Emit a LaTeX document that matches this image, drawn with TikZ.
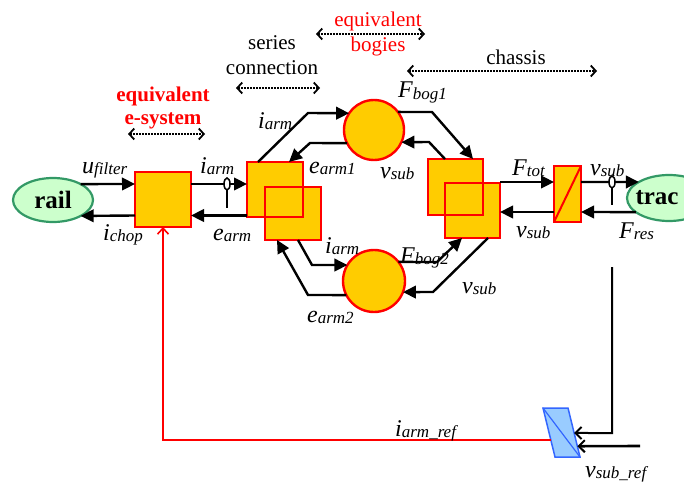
\documentclass[tikz,border=0pt]{standalone}
\usepackage{fontspec}
\setmainfont{Liberation Serif}
\usetikzlibrary{arrows.meta,calc,shapes.geometric}

\definecolor{blockfill}{HTML}{FFCC00}
\definecolor{termfill}{HTML}{CCFFCC}
\definecolor{termline}{HTML}{339966}
\definecolor{reffill}{HTML}{99CCFF}
\definecolor{refline}{HTML}{3366FF}

% variable name with a smaller italic index
\newcommand{\varlab}[2]{{\fontsize{24}{24}\selectfont\itshape #1}\raisebox{-1.5pt}{\fontsize{17}{17}\selectfont\itshape #2}}

\begin{document}
\begin{tikzpicture}[x=1pt,y=-1pt,
  blockbox/.style={draw=red,fill=blockfill,line width=2.4pt,inner sep=0pt,outer sep=0pt},
  terminal/.style={ellipse,draw=termline,fill=termfill,line width=2.2pt,inner sep=0pt,outer sep=0pt,
    font=\fontsize{25}{25}\selectfont\bfseries},
  conn/.style={line width=2.4pt,-{Triangle[length=13pt,width=12.5pt]}},
  reflink/.style={line width=2pt,-{Straight Barb[length=6pt,width=12pt,line width=2pt]}},
  sensor/.style={ellipse,draw,fill=white,line width=1.5pt,minimum width=6pt,minimum height=12pt,inner sep=0pt,outer sep=0pt},
  span/.style={line width=1.8pt,dash pattern=on 1.4pt off 1.6pt,
    {Straight Barb[length=5pt,width=11pt,line width=1.8pt]}-{Straight Barb[length=5pt,width=11pt,line width=1.8pt]}},
  hdr/.style={align=center,font=\fontsize{21}{25}\selectfont,inner sep=0pt},
  lab/.style={inner sep=0pt,anchor=base west}]

\useasboundingbox (0,0) rectangle (684,484);

% ---- section headings with their extent markers
\node[hdr,text=red,font=\fontsize{21}{23}\selectfont\bfseries] (hsys) at (163,108) {equivalent\\e-system};
\node[hdr] (hser) at (272,55.5) {series\\connection};
\node[hdr,text=red] (hbog) at (378,34) {equivalent\\bogies};
\node[hdr] (hcha) at (516,57) {chassis};
\coordinate (sysL) at (128,134); \coordinate (sysR) at (205,134);
\coordinate (serL) at (236,88);  \coordinate (serR) at (320,88);
\coordinate (bogL) at (316,34);  \coordinate (bogR) at (425,34);
\coordinate (chaL) at (407,71);  \coordinate (chaR) at (597,71);
\draw[span] (sysL) -- (sysR);
\draw[span] (serL) -- (serR);
\draw[span] (bogL) -- (bogR);
\draw[span] (chaL) -- (chaR);

% ---- terminals
\node[terminal,minimum width=80pt,minimum height=44pt] (rail) at (53,200) {rail};
\node[terminal,minimum width=84pt,minimum height=46pt] (trac) at (669,198) {\hspace*{-24pt}trac};

% ---- blocks
\node[blockbox,minimum width=56pt,minimum height=55pt] (chop) at (163,199.5) {};
\node[blockbox,minimum width=56pt,minimum height=55pt] (arm1) at (275,189.5) {};
\node[blockbox,minimum width=56pt,minimum height=53pt] (arm2) at (293,213.5) {};
\draw[red,line width=2.4pt] (arm1.south west) rectangle (arm1.north east);
\node[blockbox,circle,minimum size=60pt] (bog1) at (374,130) {};
\node[blockbox,circle,minimum size=62pt] (bog2) at (374,281) {};
\node[blockbox,minimum width=55pt,minimum height=56pt] (ch1) at (455.5,187) {};
\node[blockbox,minimum width=55pt,minimum height=55pt] (ch2) at (472.5,210.5) {};
\draw[red,line width=2.4pt] (ch1.south west) rectangle (ch1.north east);
\node[blockbox,minimum width=27pt,minimum height=56pt] (conv) at (567.5,194) {};
\draw[red,line width=2pt] (conv.south west) -- (conv.north east);

% ---- reference block
\coordinate (rNW) at (543,408); \coordinate (rNE) at (568,408);
\coordinate (rSE) at (580,457); \coordinate (rSW) at (555,457);
\filldraw[draw=refline,fill=reffill,line width=1.5pt] (rNW) -- (rNE) -- (rSE) -- (rSW) -- cycle;
\draw[refline,line width=1.2pt] (rNW) -- (rSE);

% ---- electrical side
\draw[conn] (rail.30) -- ([yshift=-12pt]chop.north west);
\draw[conn] ([yshift=11.5pt]chop.south west) -- (rail.-30);
\draw[conn] ([yshift=-12pt]chop.north east) -- ([yshift=-22pt]arm1.north west);
\draw[conn] ([yshift=1.5pt]arm1.south west) -- ([yshift=11.5pt]chop.south east);
\node[sensor] (s1) at (227,184) {};
\coordinate (s1end) at (227,208);
\draw[line width=1.5pt] (s1.south) -- (s1end);

% ---- series connection to the bogies
\coordinate (k1) at (308,113);
\draw[conn] ([xshift=11pt]arm1.north west) -- (k1) -- (bog1.146);
\coordinate (k2) at (310,143);
\draw[conn] (bog1.206) -- (k2) -- ([xshift=42pt]arm1.north west);
\coordinate (k5) at (312,265);
\draw[conn] ([xshift=33pt]arm2.south west) -- (k5) -- (bog2.149);
\coordinate (k6) at (308,295);
\draw[conn] (bog2.207) -- (k6) -- ([xshift=12pt]arm2.south west);

% ---- bogies to chassis
\coordinate (k3) at (432,112);
\draw[conn] (bog1.37) -- (k3) -- ([xshift=45pt]ch1.north west);
\coordinate (k4) at (429,142);
\draw[conn] ([xshift=17pt]ch1.north west) -- (k4) -- (bog1.-24);
\coordinate (k7) at (437,262);
\draw[conn] (bog2.38) -- (k7) -- ([xshift=17pt]ch2.south west);
\coordinate (k8) at (433,292);
\draw[conn] ([xshift=43pt]ch2.south west) -- (k8) -- (bog2.-21);

% ---- chassis to traction load
\draw[conn] ([yshift=1pt]ch2.north east) -- ([yshift=-16pt]conv.north west);
\draw[conn] ([yshift=-46pt]conv.north west) -- ([yshift=-29pt]ch2.north east);
\draw[conn] ([yshift=-16pt]conv.north east) -- (trac.152);
\draw[conn] (trac.203) -- ([yshift=-46pt]conv.north east);
\node[sensor] (s2) at (612,182) {};
\coordinate (s2end) at (612,205);
\draw[line width=1.5pt] (s2.south) -- (s2end);

% ---- speed feedback and reference
\coordinate (t1) at (612,267); \coordinate (t2) at (612,433);
\draw[reflink] (t1) -- (t2) -- ($(rNE)!0.51!(rSE)$);
\coordinate (t3) at (640,446);
\draw[reflink,line width=2.6pt] (t3) -- ($(rNE)!0.78!(rSE)$);
\draw[red,line width=1.5pt,-{Straight Barb[length=6pt,width=11pt,line width=1.6pt]}]
  ($(rNW)!0.65!(rSW)$) -| (chop.south);

% ---- variable labels
\node[lab] (l1) at (82,173) {\varlab{u}{filter}};
\node[lab] (l2) at (103,240) {\varlab{i}{chop}};
\node[lab] (l3) at (200,173) {\varlab{i}{arm}};
\node[lab] (l4) at (213,240) {\varlab{e}{arm}};
\node[lab] (l5) at (258,128) {\varlab{i}{arm}};
\node[lab] (l6) at (309,173) {\varlab{e}{arm1}};
\node[lab] (l7) at (380,178) {\varlab{v}{sub}};
\node[lab] (l8) at (398,98) {\varlab{F}{bog1}};
\node[lab] (l9) at (325,253) {\varlab{i}{arm}};
\node[lab] (l10) at (400,263) {\varlab{F}{bog2}};
\node[lab] (l11) at (307,322) {\varlab{e}{arm2}};
\node[lab] (l12) at (462,293) {\varlab{v}{sub}};
\node[lab] (l13) at (512,175) {\varlab{F}{tot}};
\node[lab] (l14) at (590,175) {\varlab{v}{sub}};
\node[lab] (l15) at (516,237) {\varlab{v}{sub}};
\node[lab] (l16) at (619,238) {\varlab{F}{res}};
\node[lab] (l17) at (395,436) {\varlab{i}{arm\_ref}};
\node[lab] (l18) at (585,477) {\varlab{v}{sub\_ref}};
\end{tikzpicture}
\end{document}
